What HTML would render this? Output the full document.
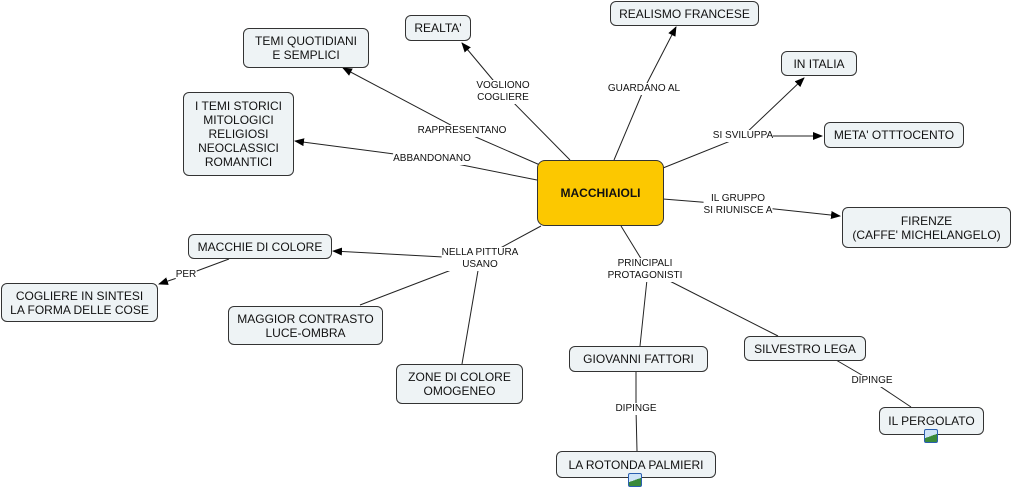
<!DOCTYPE html>
<html><head><meta charset="utf-8"><style>
body{margin:0;width:1014px;height:492px;background:#fff;position:relative;overflow:hidden;font-family:"Liberation Sans",Verdana,sans-serif}
.b{position:absolute;background:#eef3f5;border:1px solid #333;border-radius:6px;font-size:12px;color:#111;display:flex;align-items:center;justify-content:center;text-align:center;line-height:14px;box-sizing:border-box}
.l{position:absolute;font-size:10px;color:#111;background:#fff;text-align:center;line-height:12px;transform:translate(-50%,-50%);white-space:nowrap}
.ic{position:absolute;width:14px;height:14px;border:1px solid #2a5fb0;border-radius:2px;background:linear-gradient(160deg,#cfe4f7 50%,#3a8a3a 50%);box-sizing:border-box}
</style></head><body>
<svg width="1014" height="492" style="position:absolute;left:0;top:0">
<defs><marker id="a" markerWidth="10" markerHeight="8" refX="9" refY="4" orient="auto" markerUnits="userSpaceOnUse"><path d="M0,0L10,4L0,8z" fill="#000"/></marker></defs>
<g stroke="#222" stroke-width="1" fill="none">
<path d="M570,160L503,92L462,43" marker-end="url(#a)"/>
<path d="M614,160L644,89L676,27" marker-end="url(#a)"/>
<path d="M540,165L462,131L343,68" marker-end="url(#a)"/>
<path d="M537,180L432,159L295,141" marker-end="url(#a)"/>
<path d="M663,168L743,136L804,78" marker-end="url(#a)"/>
<path d="M743,136L822,136" marker-end="url(#a)"/>
<path d="M663,199L738,205L840,216" marker-end="url(#a)"/>
<path d="M541,226L480,259L333,251" marker-end="url(#a)"/>
<path d="M480,259L360,305"/>
<path d="M480,259L462,364"/>
<path d="M229,259L186,275L159,284" marker-end="url(#a)"/>
<path d="M621,226L648,270L640,346"/>
<path d="M648,270L778,336"/>
<path d="M636,371L636,409L637,451"/>
<path d="M836,360L872,381L911,407"/>
</g></svg>
<div class="l" style="left:503px;top:92px">VOGLIONO<br>COGLIERE</div>
<div class="l" style="left:644px;top:89px">GUARDANO AL</div>
<div class="l" style="left:462px;top:131px">RAPPRESENTANO</div>
<div class="l" style="left:432px;top:159px">ABBANDONANO</div>
<div class="l" style="left:743px;top:136px">SI SVILUPPA</div>
<div class="l" style="left:738px;top:205px">IL GRUPPO<br>SI RIUNISCE A</div>
<div class="l" style="left:480px;top:259px">NELLA PITTURA<br>USANO</div>
<div class="l" style="left:186px;top:275px">PER</div>
<div class="l" style="left:645px;top:270px">PRINCIPALI<br>PROTAGONISTI</div>
<div class="l" style="left:636px;top:409px">DIPINGE</div>
<div class="l" style="left:872px;top:381px">DIPINGE</div>
<div class="b" style="left:537px;top:160px;width:127px;height:66px;background:#fcc800;font-weight:bold;font-size:12px;border-radius:8px">MACCHIAIOLI</div>
<div class="b" style="left:405px;top:15px;width:66px;height:26px">REALTA'</div>
<div class="b" style="left:610px;top:1px;width:149px;height:25px">REALISMO FRANCESE</div>
<div class="b" style="left:243px;top:28px;width:126px;height:40px">TEMI QUOTIDIANI<br>E SEMPLICI</div>
<div class="b" style="left:781px;top:51px;width:76px;height:25px">IN ITALIA</div>
<div class="b" style="left:824px;top:122px;width:140px;height:26px">META' OTTTOCENTO</div>
<div class="b" style="left:183px;top:92px;width:111px;height:84px">I TEMI STORICI<br>MITOLOGICI<br>RELIGIOSI<br>NEOCLASSICI<br>ROMANTICI</div>
<div class="b" style="left:842px;top:207px;width:169px;height:41px">FIRENZE<br>(CAFFE' MICHELANGELO)</div>
<div class="b" style="left:188px;top:234px;width:144px;height:25px">MACCHIE DI COLORE</div>
<div class="b" style="left:1px;top:283px;width:157px;height:39px">COGLIERE IN SINTESI<br>LA FORMA DELLE COSE</div>
<div class="b" style="left:228px;top:306px;width:155px;height:39px">MAGGIOR CONTRASTO<br>LUCE-OMBRA</div>
<div class="b" style="left:396px;top:364px;width:127px;height:40px">ZONE DI COLORE<br>OMOGENEO</div>
<div class="b" style="left:569px;top:346px;width:139px;height:26px">GIOVANNI FATTORI</div>
<div class="b" style="left:744px;top:336px;width:122px;height:25px">SILVESTRO LEGA</div>
<div class="b" style="left:879px;top:407px;width:105px;height:28px">IL PERGOLATO</div>
<div class="ic" style="left:924px;top:429px"></div>
<div class="b" style="left:556px;top:451px;width:160px;height:27px">LA ROTONDA PALMIERI</div>
<div class="ic" style="left:628px;top:473px"></div>
</body></html>
